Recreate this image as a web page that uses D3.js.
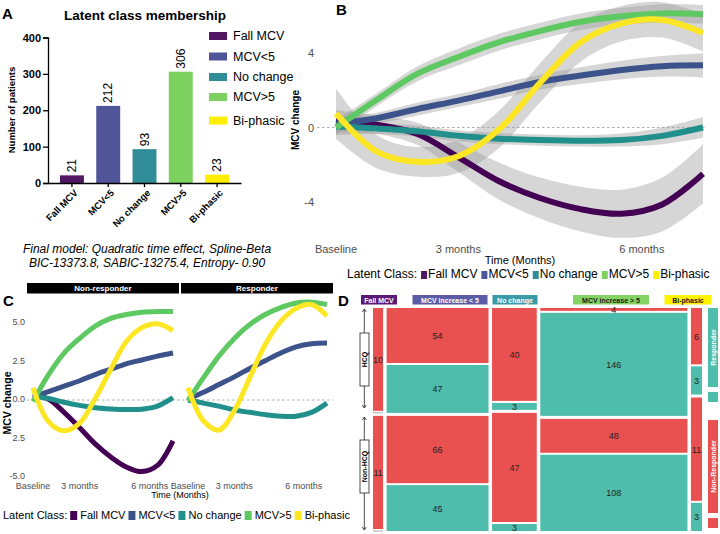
<!DOCTYPE html>
<html>
<head>
<meta charset="utf-8">
<script src="https://cdn.jsdelivr.net/npm/d3@7"></script>
<style>
body { margin: 0; background: #fff; }
text { font-family: "Liberation Sans", Arial, Helvetica, sans-serif; }
</style>
</head>
<body>
<svg id="fig" width="720" height="534"></svg>
<script>
// latent classes and sizes (panel A)
const classes = ["Fall MCV", "MCV<5", "No change", "MCV>5", "Bi-phasic"];
const classCounts = [21, 212, 93, 306, 23];
const countTicks = [0, 100, 200, 300, 400];

// time axis shared by panels B and C
const timeSteps = [0, 1, 2, 3, 4, 5, 6, 7, 8, 9];
const timeTicks = [0, 3, 7.5];
const timeLabels = ["Baseline", "3 months", "6 months"];

// panel B: fitted trajectories per class
const trajFall = [0.35, 0.15, -0.35, -1.6, -2.9, -3.8, -4.4, -4.65, -4.15, -2.5];
const trajLow = [0.2, 0.5, 1.0, 1.45, 1.95, 2.45, 2.8, 3.1, 3.3, 3.35];
const trajNone = [0.05, -0.05, -0.2, -0.45, -0.6, -0.68, -0.72, -0.68, -0.45, 0.0];
const trajHigh = [0.0, 1.5, 2.9, 3.8, 4.6, 5.2, 5.7, 6.0, 6.15, 6.1];
const trajBi = [0.75, -1.3, -1.85, -1.55, -0.1, 2.4, 4.6, 5.6, 5.8, 5.1];
// panel B: half width of the confidence ribbons
const ciFall = [0.6, 0.5, 0.6, 0.8, 1.0, 1.1, 1.2, 1.3, 1.45, 1.6];
const ciLow = [0.35, 0.3, 0.35, 0.35, 0.4, 0.4, 0.45, 0.5, 0.55, 0.65];
const ciNone = [0.45, 0.3, 0.3, 0.3, 0.3, 0.3, 0.3, 0.35, 0.45, 0.55];
const ciHigh = [0.4, 0.35, 0.4, 0.45, 0.45, 0.45, 0.45, 0.45, 0.5, 0.5];
const ciBi = [1.35, 0.9, 0.8, 0.9, 1.0, 1.05, 1.05, 0.95, 0.95, 1.0];
const bTicks = [-4, 0, 4];

// panel C: trajectories split by response
const facets = ["Non-responder", "Responder"];
const nrFall = [0.35, 0.05, -0.8, -1.8, -2.85, -3.7, -4.35, -4.65, -4.25, -2.65];
const nrLow = [0.2, 0.55, 0.9, 1.25, 1.65, 2.0, 2.35, 2.6, 2.85, 3.05];
const nrNone = [0.25, 0.1, -0.15, -0.35, -0.5, -0.58, -0.62, -0.6, -0.4, 0.15];
const nrHigh = [-0.1, 1.65, 3.05, 4.0, 4.8, 5.3, 5.55, 5.7, 5.75, 5.75];
const nrBi = [0.8, -1.4, -2.0, -1.5, 0.1, 2.0, 3.8, 4.7, 4.95, 4.5];
const rLow = [0.05, 0.5, 1.0, 1.5, 2.05, 2.55, 3.05, 3.45, 3.65, 3.7];
const rNone = [0.0, -0.2, -0.4, -0.65, -0.8, -0.95, -1.05, -1.05, -0.8, -0.2];
const rHigh = [-0.05, 1.45, 2.85, 4.0, 4.9, 5.55, 6.0, 6.3, 6.35, 6.2];
const rBi = [0.8, -1.35, -1.95, -0.7, 1.45, 3.6, 5.1, 5.95, 6.2, 5.45];
const cTicks = [-5, -2.5, 0, 2.5, 5];
const cTickLabels = ["-5.0", "2.5", "0.0", "2.5", "5.0"];

// panel D: mosaic counts (HCQ / non-HCQ x non-responder / responder)
const mosaicHeaders = ["Fall MCV", "MCV increase < 5", "No change", "MCV increase > 5", "Bi-phasic"];
const hcqNonResp = [10, 54, 40, 4, 6];
const hcqResp = [0, 47, 3, 146, 3];
const nonHcqNonResp = [11, 66, 47, 48, 11];
const nonHcqResp = [0, 45, 3, 108, 3];

// colours
const barColors = ["#521763", "#50559a", "#2f8c98", "#7dd25f", "#ffee00"];
const lineColors = ["#440154", "#3b528b", "#21908c", "#5ec962", "#fde725"];
const headerColors = ["#5b1a77", "#5a5ca6", "#3a9aa8", "#84d465", "#fff200"];
const headerText = ["#fff", "#fff", "#fff", "#1a1a1a", "#1a1a1a"];
const red = "#e85150", teal = "#4fbdab";
const grayText = "#4d4d4d";

const svg = d3.select("#fig");
svg.append("rect").attr("width", 720).attr("height", 534).attr("fill", "#fff");

function panelLetter(x, y, s) {
    svg.append("text").attr("x", x).attr("y", y)
        .style("font-size", "15px").style("font-weight", "bold").text(s);
}

// legend row "Latent Class: ..." with measured spacing
function classLegend(x, y, size, colors, sw, gaps) {
    const g = svg.append("g");
    let cx = x;
    const lab = g.append("text").attr("x", cx).attr("y", y)
        .style("font-size", size + "px").text("Latent Class:");
    cx += lab.node().getComputedTextLength() + gaps[0];
    classes.forEach((c, i) => {
        g.append("rect").attr("x", cx).attr("y", y - sw.h + 1)
            .attr("width", sw.w).attr("height", sw.h).attr("fill", colors[i]);
        cx += sw.w + gaps[1];
        const t = g.append("text").attr("x", cx).attr("y", y)
            .style("font-size", size + "px").text(c);
        cx += t.node().getComputedTextLength() + gaps[2];
    });
}

// ---------------- panel A ----------------
panelLetter(2, 19, "A");
svg.append("text").attr("x", 145).attr("y", 20).attr("text-anchor", "middle")
    .style("font-size", "13.5px").style("font-weight", "bold").text("Latent class membership");

const xA = d3.scaleBand().domain(classes).range([48, 241]).paddingInner(0.34).paddingOuter(0.33);
const yA = d3.scaleLinear().domain([0, 400]).range([183, 37.5]);

const gA = svg.append("g");
gA.selectAll("rect.bar").data(classes).join("rect")
    .attr("class", "bar")
    .attr("x", d => xA(d))
    .attr("width", xA.bandwidth())
    .attr("y", (d, i) => yA(classCounts[i]))
    .attr("height", (d, i) => yA(0) - yA(classCounts[i]))
    .attr("fill", (d, i) => barColors[i]);

gA.selectAll("text.val").data(classes).join("text")
    .attr("class", "val")
    .attr("transform", (d, i) => "translate(" + (xA(d) + xA.bandwidth() / 2) + "," + (yA(classCounts[i]) - 3) + ") rotate(-90)")
    .attr("dominant-baseline", "central")
    .style("font-size", "12px")
    .text((d, i) => classCounts[i]);

const axA = gA.append("g").attr("transform", "translate(48,0)")
    .call(d3.axisLeft(yA).tickValues(countTicks).tickSize(5).tickPadding(2));
axA.selectAll("text").style("font-size", "11px").style("font-weight", "bold").attr("fill", "#000");
axA.selectAll("line, path").attr("stroke", "#000").attr("stroke-width", 1.3);

const axAx = gA.append("g").attr("transform", "translate(0,183)")
    .call(d3.axisBottom(xA).tickSize(4).tickFormat("").tickSizeOuter(0));
axAx.selectAll("line, path").attr("stroke", "#000").attr("stroke-width", 1.3);

gA.selectAll("text.xlab").data(classes).join("text")
    .attr("class", "xlab")
    .attr("transform", d => "translate(" + (xA(d) + xA.bandwidth() / 2 + 4) + ",191) rotate(-45)")
    .attr("text-anchor", "end")
    .attr("dominant-baseline", "central")
    .style("font-size", "9.5px").style("font-weight", "bold")
    .text(d => d);

svg.append("text").attr("transform", "translate(15,110) rotate(-90)")
    .attr("text-anchor", "middle")
    .style("font-size", "9.5px").style("font-weight", "bold").text("Number of patients");

// legend of panel A
const legA = svg.append("g");
classes.forEach((c, i) => {
    const cy = [36, 56.5, 77, 97, 120.5][i];
    legA.append("rect").attr("x", 209).attr("y", cy - 4).attr("width", 18).attr("height", 8)
        .attr("fill", barColors[i]);
    legA.append("text").attr("x", 233).attr("y", cy).attr("dominant-baseline", "central")
        .style("font-size", "12.5px").text(c);
});

svg.append("text").attr("x", 147).attr("y", 253).attr("text-anchor", "middle")
    .style("font-size", "12px").style("font-style", "italic")
    .text("Final model: Quadratic time effect, Spline-Beta");
svg.append("text").attr("x", 147).attr("y", 267).attr("text-anchor", "middle")
    .style("font-size", "12px").style("font-style", "italic")
    .text("BIC-13373.8, SABIC-13275.4, Entropy- 0.90");

// ---------------- panel B ----------------
panelLetter(336, 15, "B");
const xB = d3.scaleLinear().domain([0, 9]).range([336, 703]);
const yB = d3.scaleLinear().domain([-4, 4]).range([201.7, 53.3]);
const gB = svg.append("g");

gB.append("line").attr("x1", 317).attr("x2", 706).attr("y1", yB(0)).attr("y2", yB(0))
    .attr("stroke", "#9a9a9a").attr("stroke-width", 0.8).attr("stroke-dasharray", "2.5,2.5");

const bSeries = [
    { v: trajFall, ci: ciFall },
    { v: trajLow, ci: ciLow },
    { v: trajNone, ci: ciNone },
    { v: trajHigh, ci: ciHigh },
    { v: trajBi, ci: ciBi }
];

const ribbon = d3.area()
    .x(d => xB(d.t))
    .y0(d => yB(d.lo))
    .y1(d => yB(d.hi))
    .curve(d3.curveCatmullRom);
const lineB = d3.line().x(d => xB(d.t)).y(d => yB(d.v)).curve(d3.curveCatmullRom);

bSeries.forEach(s => {
    const pts = timeSteps.map((t, i) => ({ t: t, lo: s.v[i] - s.ci[i], hi: s.v[i] + s.ci[i] }));
    gB.append("path").attr("d", ribbon(pts)).attr("fill", "#999").attr("fill-opacity", 0.4);
});
bSeries.forEach((s, k) => {
    const pts = timeSteps.map((t, i) => ({ t: t, v: s.v[i] }));
    gB.append("path").attr("d", lineB(pts)).attr("fill", "none")
        .attr("stroke", lineColors[k]).attr("stroke-width", 6);
});

bTicks.forEach(v => {
    gB.append("text").attr("x", 314).attr("y", yB(v)).attr("text-anchor", "end")
        .attr("dominant-baseline", "central").attr("fill", grayText)
        .style("font-size", "11px").text(v);
});
timeTicks.forEach((t, i) => {
    gB.append("text").attr("x", xB(t)).attr("y", 253).attr("text-anchor", "middle")
        .attr("fill", grayText).style("font-size", "11px").text(timeLabels[i]);
});
svg.append("text").attr("x", 520).attr("y", 264).attr("text-anchor", "middle")
    .style("font-size", "11px").text("Time (Months)");
svg.append("text").attr("transform", "translate(299,120) rotate(-90)")
    .attr("text-anchor", "middle")
    .style("font-size", "10px").style("font-weight", "bold").text("MCV change");

classLegend(347, 278, 12, barColors, { w: 6, h: 8 }, [4, 1, 4]);

// ---------------- panel C ----------------
panelLetter(3, 306, "C");
const yC = d3.scaleLinear().domain([-5, 5]).range([477, 323]);
const xC = [
    d3.scaleLinear().domain([0, 9]).range([33, 173]),
    d3.scaleLinear().domain([0, 9]).range([188, 327])
];
const stripX = [[27, 179], [181, 333]];
const cSeries = [
    [nrFall, nrLow, nrNone, nrHigh, nrBi],
    [null, rLow, rNone, rHigh, rBi]
];
const gC = svg.append("g");

gC.append("line").attr("x1", 27).attr("x2", 333).attr("y1", yC(0)).attr("y2", yC(0))
    .attr("stroke", "#9a9a9a").attr("stroke-width", 0.8).attr("stroke-dasharray", "2.5,2.5");

facets.forEach((f, p) => {
    gC.append("rect").attr("x", stripX[p][0]).attr("y", 283)
        .attr("width", stripX[p][1] - stripX[p][0]).attr("height", 10.5).attr("fill", "#000");
    gC.append("text").attr("x", (stripX[p][0] + stripX[p][1]) / 2).attr("y", 288.5)
        .attr("text-anchor", "middle").attr("dominant-baseline", "central")
        .attr("fill", "#fff").style("font-size", "8px").style("font-weight", "bold").text(f);

    const line = d3.line().x((d, i) => xC[p](timeSteps[i])).y(d => yC(d)).curve(d3.curveCatmullRom);
    cSeries[p].forEach((vals, k) => {
        if (!vals) return;
        gC.append("path").attr("d", line(vals)).attr("fill", "none")
            .attr("stroke", lineColors[k]).attr("stroke-width", 5);
    });

    timeTicks.forEach((t, i) => {
        gC.append("text").attr("x", xC[p](t)).attr("y", 489).attr("text-anchor", "middle")
            .attr("fill", grayText).style("font-size", "9px").text(timeLabels[i]);
    });
});

cTicks.forEach((v, i) => {
    gC.append("text").attr("x", 25).attr("y", yC(v) - 1).attr("text-anchor", "end")
        .attr("dominant-baseline", "central").attr("fill", grayText)
        .style("font-size", "9px").text(cTickLabels[i]);
});
svg.append("text").attr("x", 180).attr("y", 498).attr("text-anchor", "middle")
    .style("font-size", "9px").text("Time (Months)");
svg.append("text").attr("transform", "translate(11,403) rotate(-90)")
    .attr("text-anchor", "middle")
    .style("font-size", "10.5px").style("font-weight", "bold").text("MCV change");

classLegend(3, 519, 11, lineColors, { w: 7, h: 9 }, [3, 3, 3]);

// ---------------- panel D ----------------
panelLetter(338, 306, "D");
const gD = svg.append("g");
const colGap = 3.5, groupGap = 3, cellGap = 2;
const dx0 = 373, dx1 = 702, dy0 = 308, dy1 = 531;
const unitW = (dx1 - dx0 - colGap * (classes.length - 1)) / d3.sum(classCounts);
const colX = [];
let accX = dx0;
classCounts.forEach((n, i) => {
    colX.push([accX, accX + n * unitW]);
    accX += n * unitW + colGap;
});

classes.forEach((c, i) => {
    const cells = [
        { n: hcqNonResp[i], fill: red },
        { n: hcqResp[i], fill: teal },
        { n: nonHcqNonResp[i], fill: red },
        { n: nonHcqResp[i], fill: teal }
    ];
    const yScale = d3.scaleLinear().domain([0, classCounts[i]])
        .range([0, dy1 - dy0 - groupGap - 2 * cellGap]);
    let cy = dy0;
    cells.forEach((cell, k) => {
        const h = yScale(cell.n);
        const x = colX[i][0], w = colX[i][1] - colX[i][0];
        if (cell.n > 0) {
            gD.append("rect").attr("x", x).attr("y", cy).attr("width", w).attr("height", h)
                .attr("fill", cell.fill);
            gD.append("text").attr("x", x + w / 2).attr("y", cy + h / 2 + 0.5)
                .attr("text-anchor", "middle").attr("dominant-baseline", "central")
                .attr("fill", "#222").style("font-size", "9px").text(cell.n);
        } else {
            gD.append("line").attr("x1", x).attr("x2", x + w).attr("y1", cy).attr("y2", cy)
                .attr("stroke", "#aaa").attr("stroke-width", 1);
        }
        cy += h + (k === 1 ? groupGap : cellGap);
    });
});

// column headers
const headerX = [379, 450, 515, 611, 688];
const headerW = [36, 75, 45, 76, 47];
mosaicHeaders.forEach((h, i) => {
    gD.append("rect").attr("x", headerX[i] - headerW[i] / 2).attr("y", 295)
        .attr("width", headerW[i]).attr("height", 9.5).attr("fill", headerColors[i]);
    gD.append("text").attr("x", headerX[i]).attr("y", 300)
        .attr("text-anchor", "middle").attr("dominant-baseline", "central")
        .attr("fill", headerText[i]).style("font-size", "7px").style("font-weight", "bold").text(h);
});

// HCQ / Non-HCQ row axis with arrows
function rowAxis(y0, y1, by0, by1, label) {
    const ax = 364.3;
    gD.append("line").attr("x1", ax).attr("x2", ax).attr("y1", y0).attr("y2", y1)
        .attr("stroke", "#222").attr("stroke-width", 0.8);
    gD.append("path").attr("d", "M" + (ax - 2) + "," + (y0 + 3) + "L" + ax + "," + y0 + "L" + (ax + 2) + "," + (y0 + 3))
        .attr("fill", "none").attr("stroke", "#222").attr("stroke-width", 0.8);
    gD.append("path").attr("d", "M" + (ax - 2) + "," + (y1 - 3) + "L" + ax + "," + y1 + "L" + (ax + 2) + "," + (y1 - 3))
        .attr("fill", "none").attr("stroke", "#222").attr("stroke-width", 0.8);
    gD.append("rect").attr("x", 360).attr("y", by0).attr("width", 9).attr("height", by1 - by0)
        .attr("fill", "#fff").attr("stroke", "#222").attr("stroke-width", 0.8);
    gD.append("text").attr("transform", "translate(364.8," + (by0 + by1) / 2 + ") rotate(-90)")
        .attr("text-anchor", "middle").attr("dominant-baseline", "central")
        .style("font-size", "7px").style("font-weight", "bold").text(label);
}
rowAxis(309, 408, 333, 386, "HCQ");
rowAxis(417, 530, 440, 493, "Non-HCQ");

// response key on the right
function responseKey(y0, y1, sq, fill, label) {
    gD.append("rect").attr("x", 708).attr("y", y0).attr("width", 10).attr("height", y1 - y0).attr("fill", fill);
    gD.append("text").attr("transform", "translate(713," + (y0 + y1) / 2 + ") rotate(-90)")
        .attr("text-anchor", "middle").attr("dominant-baseline", "central")
        .attr("fill", "#fff").style("font-size", "7px").style("font-weight", "bold").text(label);
    gD.append("rect").attr("x", 708).attr("y", sq).attr("width", 10).attr("height", 10).attr("fill", fill);
}
responseKey(308, 387, 392, teal, "Responder");
responseKey(420, 513, 518, red, "Non-Responder");
</script>
</body>
</html>
